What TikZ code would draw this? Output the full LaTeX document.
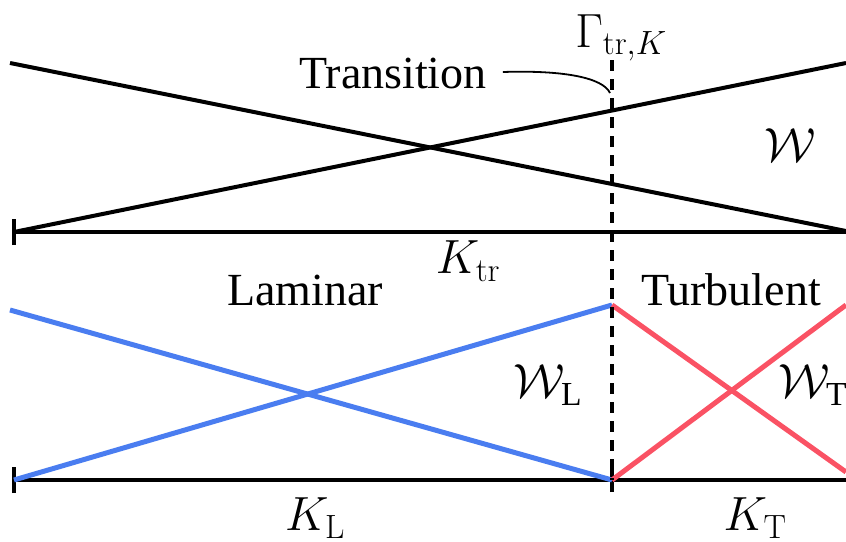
\RequirePackage{fix-cm}
\documentclass[tikz,border=0pt]{standalone}
\usepackage{amsmath}
\usepackage[no-math]{fontspec}
\setmainfont{Liberation Serif}
\definecolor{lamblue}{RGB}{74,125,240}
\definecolor{turbred}{RGB}{250,82,100}
\tikzset{
  lbl/.style={font=\fontsize{46}{50}\selectfont, inner sep=0pt},
  mlbl/.style={font=\fontsize{48}{52}\selectfont, inner sep=0pt},
  axisline/.style={line width=4pt},
  wline/.style={line width=4pt},
  lamline/.style={line width=5pt, lamblue},
  turbline/.style={line width=5pt, turbred},
  dashline/.style={line width=3.2pt, dash pattern=on 11pt off 8pt},
  ticks/.style={line width=4pt}
}
\begin{document}
\begin{tikzpicture}[x=1pt,y=-1pt]
\useasboundingbox (0,0) rectangle (846,541);
% coordinates
\coordinate (tl) at (10,63);
\coordinate (tr) at (846,63);
\coordinate (a1) at (14,232);
\coordinate (a2) at (846,232);
\coordinate (a2w) at (846,231);
\coordinate (b1) at (14,480);
\coordinate (b2) at (846,480);
\coordinate (dtop) at (612,60);
\coordinate (dbot) at (612,480);
\coordinate (lt) at (10,310);
\coordinate (pk) at (612,305);
\coordinate (rt) at (846,305);
\coordinate (rb) at (846,472);
% top panel
\draw[wline] (tl) -- (a2w);
\draw[wline] (a1) -- (tr);
\draw[axisline] (a1) -- (a2);
\draw[ticks] ([yshift=-13pt]a1) -- ([yshift=13pt]a1);
% bottom panel
\draw[axisline] (b1) -- (b2);
\draw[ticks] ([yshift=-13pt]b1) -- ([yshift=13pt]b1);
\draw[ticks] ([yshift=-12pt]dbot) -- ([yshift=12pt]dbot);
\draw[lamline] (lt) -- (dbot);
\draw[lamline] (b1) -- (pk);
\draw[turbline] (pk) -- (rb);
\draw[turbline] (dbot) -- (rt);
% dashed interface
\draw[dashline] (dtop) -- (dbot);
% labels
\node[mlbl] (gam) at (621,38) {$\Gamma_{\mathrm{tr},K}$};
\node[lbl, anchor=base] (trans) at (393,88) {Transition};
\coordinate (lead) at (610,93);
\draw[line width=1.8pt] ([xshift=16pt]trans.east |- 0,72) .. controls (565,70) and (603,78) .. (lead);
\node[mlbl] (W) at (790,145) {$\mathcal{W}$};
\node[mlbl] (Ktr) at (468,261) {$K_{\mathrm{tr}}$};
\node[lbl, anchor=base] (lam) at (305,305) {Laminar};
\node[lbl, anchor=base] (turb) at (731,305) {Turbulent};
\node[mlbl] (WL) at (548,385) {$\mathcal{W}_{\text{L}}$};
\node[mlbl] (WT) at (813,385) {$\mathcal{W}_{\text{T}}$};
\node[mlbl] (KL) at (315,518) {$K_{\mathrm{L}}$};
\node[mlbl] (KT) at (755,518) {$K_{\mathrm{T}}$};
\end{tikzpicture}
\end{document}
